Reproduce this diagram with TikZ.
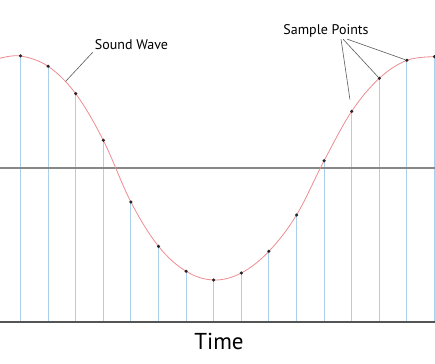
\documentclass[tikz,border=0pt]{standalone}
\usepackage{fontspec}
\setsansfont{PT Sans}

\definecolor{wavered}{RGB}{238,140,145}
\definecolor{stemblue}{RGB}{170,208,234}
\definecolor{axisgray}{RGB}{135,135,135}
\definecolor{basegray}{RGB}{85,85,85}
\definecolor{leadgray}{RGB}{90,90,90}

\tikzset{
  sample/.style={circle, fill=black!85, inner sep=0pt, minimum size=3.5pt},
  stem/.style={stemblue, line width=0.9pt},
  leader/.style={leadgray, line width=0.6pt},
  callout/.style={font=\sffamily\fontsize{14}{16}\selectfont, inner sep=2pt}
}

\begin{document}
\begin{tikzpicture}[x=1pt, y=-1pt]
        \useasboundingbox (0,0) rectangle (435,363);

        % ---------------------------------------------------
        % 1. Sample positions and axes
        % ---------------------------------------------------
        \foreach \yv [count=\i] in {56,66.3,93.7,140.3,202,246.3,271.3,280,273,251.3,215,160.7,111.3,78.3,60.3,56.7}{
          \coordinate (c\i) at ({20.5+27.6*(\i-1)}, \yv);
        }
        \coordinate (base) at (0,322);
        \coordinate (baseR) at (435,322);
        \coordinate (midL) at (0,168);
        \coordinate (midR) at (435,168);
        \coordinate (waveL) at (0,58.3);

        % stems down to the time axis
        \foreach \i in {1,...,16}
          \draw[stem] (c\i) -- (c\i |- base);

        % zero line and time axis
        \draw[axisgray, line width=1.4pt] (midL) -- (midR);
        \draw[basegray, line width=1.5pt] (base) -- (baseR);

        % ---------------------------------------------------
        % 2. Sound wave and sample points
        % ---------------------------------------------------
        \draw[wavered, line width=0.8pt] plot[smooth, tension=0.6] coordinates {(waveL) (c1) (c2) (c3) (c4) (c5) (c6) (c7) (c8) (c9) (c10) (c11) (c12) (c13) (c14) (c15) (c16)};

        \foreach \i in {1,...,16}
          \node[sample] (p\i) at (c\i) {};

        % ---------------------------------------------------
        % 3. Labels
        % ---------------------------------------------------
        \node[callout] (wave) at (131.5,45) {Sound Wave};
        \node[callout] (samples) at (326,30.5) {Sample Points};
        \node[font=\sffamily\fontsize{23}{26}\selectfont] (time) at (219,341) {Time};

        \coordinate (wavehit) at (65.7,81.3);
        \draw[leader] (wave.south west) -- (wavehit);

        \draw[leader, shorten >=10pt] ([xshift=15pt]samples.south) -- (p13);
        \draw[leader] ([xshift=17pt]samples.south) -- (p14);
        \draw[leader] ([xshift=21pt]samples.south) -- (p15);

    \end{tikzpicture}
\end{document}
